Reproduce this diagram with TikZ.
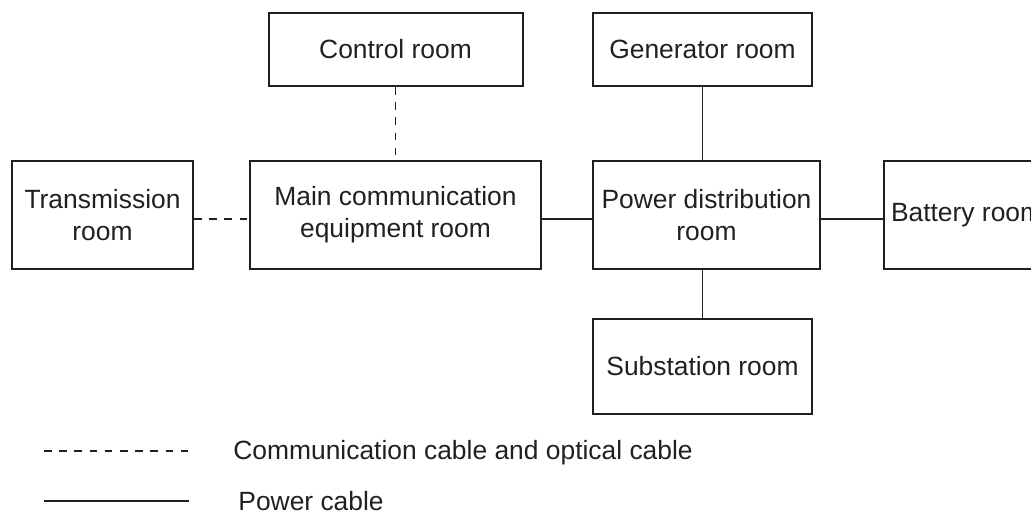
\documentclass[tikz,border=0pt]{standalone}
\usepackage{fontspec}
\setmainfont{Liberation Sans}
\usetikzlibrary{positioning}
\definecolor{ink}{RGB}{35,31,32}
\begin{document}
\begin{tikzpicture}[
x=0.5pt, y=-0.5pt,
room/.style={draw=ink, line width=1pt, align=center, text=ink, minimum height=54pt, inner sep=3.5pt, font=\fontsize{13.2}{16}\selectfont},
pcable/.style={draw=ink, line width=0.8pt},
ccable/.style={draw=ink, line width=0.8pt, dash pattern=on 3.8pt off 3.8pt},
legend/.style={text=ink, inner sep=0pt, font=\fontsize{13.2}{16}\selectfont}
]
\useasboundingbox (0,0) rectangle (1031,512);
\node[room, minimum width=90.5pt] (trans) at (102.5,215) {Transmission\\room};
\node[room, minimum width=145.5pt, right=27.5pt of trans] (main) {Main communication\\equipment room};
\node[room, minimum width=113.5pt, right=25pt of main] (pdist) {Power distribution\\room};
\node[room, right=31pt of pdist] (batt) {Battery room};
\node[room, minimum width=127pt, minimum height=36.5pt, above=36.5pt of main] (ctrl) {Control room};
\node[room, minimum width=109.5pt, minimum height=36.5pt, above=36.5pt of pdist.north west, anchor=south west] (gen) {Generator room};
\node[room, minimum width=109.5pt, minimum height=47.5pt, below=24pt of pdist.south west, anchor=north west] (sub) {Substation room};
\coordinate (c1) at (44,451); \coordinate (c2) at (189,451);
\coordinate (p1) at (44,501); \coordinate (p2) at (189,501);
\node[legend, anchor=base west] (commtxt) at (233,459) {Communication cable and optical cable};
\node[legend, anchor=base west] (powtxt) at (238,510) {Power cable};
\draw[ccable] ([yshift=-2pt]trans.east) -- ([yshift=-2pt]main.west);
\draw[ccable] (ctrl) -- (main);
\draw[pcable] ([yshift=-2pt]main.east) -- ([yshift=-2pt]pdist.west);
\draw[pcable] ([yshift=-2pt]pdist.east) -- ([yshift=-2pt]batt.west);
\draw[pcable] (gen) -- (gen.south |- pdist.north);
\draw[pcable] (sub) -- (sub.north |- pdist.south);
\draw[ccable] (c1) -- (c2);
\draw[pcable] (p1) -- (p2);
\end{tikzpicture}
\end{document}
